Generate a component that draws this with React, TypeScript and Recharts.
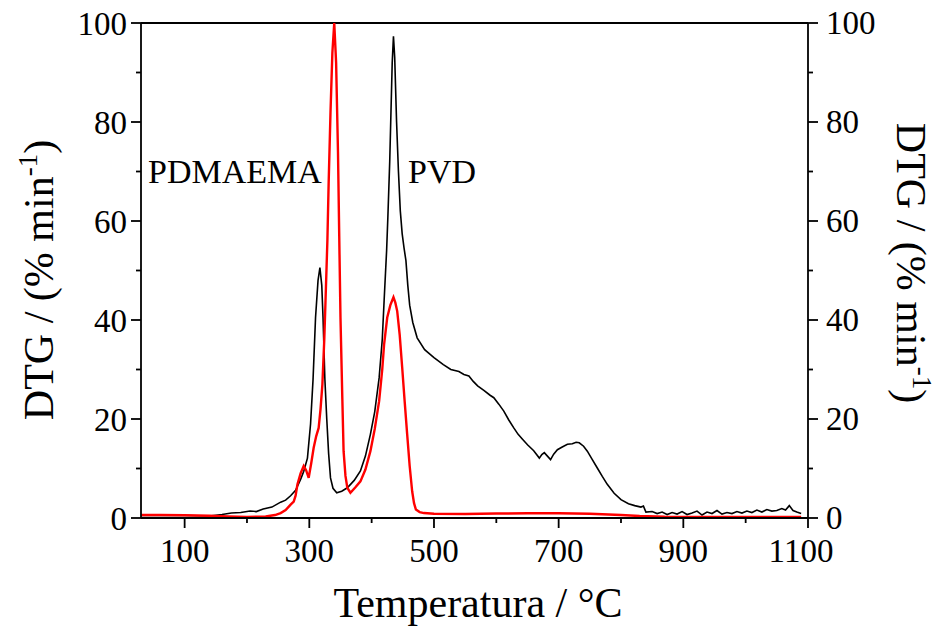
import React from 'react';
import { LineChart, Line, XAxis, YAxis, ReferenceLine } from 'recharts';

// black curve (PVD + small PDMAEMA-like shoulder)
const blackTemp = [
  30, 100, 140, 160, 175, 190, 205, 215, 226, 240, 254, 262, 270, 278, 286, 291, 297, 302, 306, 310,
  314, 317, 320, 322, 325, 328, 331, 334, 338, 344, 352, 361, 372, 382, 390, 398, 405, 412, 417, 420,
  424, 426, 429, 431, 433, 435, 437, 440, 443, 446, 449, 452, 455, 458, 461, 466, 473, 485, 500, 515,
  527, 540, 548, 556, 563, 570, 580, 590, 596, 604, 612, 620, 628, 635, 642, 650, 660, 669, 673, 677,
  682, 687, 692, 698, 705, 714, 722, 728, 733, 740, 746, 754, 762, 770, 778, 789, 800, 812, 822, 832,
  836, 840, 850, 858, 866, 874, 882, 890, 898, 906, 914, 922, 930, 938, 946, 954, 962, 970, 978, 986,
  994, 1002, 1010, 1018, 1026, 1034, 1042, 1050, 1058, 1064, 1070, 1076, 1082, 1089,
];
const blackDtg = [
  0.5, 0.5, 0.4, 0.7, 1.0, 1.1, 1.4, 1.3, 1.8, 2.2, 3.2, 3.6, 4.5, 5.6, 7.8, 9.4, 12.1, 19, 28, 40.5,
  48, 50.6, 47, 40.5, 28, 20, 13, 8.1, 6, 5.1, 5.4, 6.1, 7.6, 9.5, 12.5, 16.9, 21.5, 28.3, 36, 43.9,
  54, 60.7, 72, 82, 92, 97.3, 93, 80, 70, 62, 57.4, 54.5, 52, 47, 43, 39.5, 36.4, 34, 32.4, 31,
  30.0, 29.6, 29.0, 28.7, 27.6, 26.7, 25.8, 24.8, 24.3, 23, 21.6, 19.8, 18.2, 16.9, 15.9, 14.8, 13.6, 12.1, 12.8, 13.2,
  12.5, 11.8, 12.9, 13.8, 14.3, 14.9, 15.0, 15.3, 15.2, 14.5, 13.5, 11.8, 10.1, 8.4, 6.8, 5.0, 3.7, 2.9, 2.5, 2.2,
  2.4, 1.2, 1.3, 0.9, 1.2, 0.7, 1.1, 0.8, 1.3, 0.7, 1.0, 1.4, 0.6, 1.2, 0.9, 1.5, 0.8, 1.1, 0.9, 1.3,
  1.0, 1.4, 1.1, 1.6, 1.2, 1.7, 1.4, 1.5, 1.9, 1.6, 2.5, 1.5, 1.2, 0.9,
];

// red curve (PDMAEMA)
const redTemp = [
  30, 60, 100, 140, 170, 200, 230, 245, 254, 262, 270, 275, 278, 281, 286, 291, 295, 299, 303, 307,
  311, 315, 318, 321, 324, 326, 329, 331, 334, 337, 340, 343, 346, 348, 350, 353, 355, 358, 361, 366,
  374, 382, 390, 398, 405, 412, 417, 420, 425, 430, 435, 438, 441, 445, 449, 453, 457, 461, 465, 468,
  471, 477, 484, 500, 550, 600, 650, 700, 750, 800, 830, 870, 950, 1050, 1089,
];
const redDtg = [
  0.6, 0.6, 0.55, 0.45, 0.3, 0.2, 0.3, 0.6, 1.0, 1.6, 2.7, 3.3, 4.5, 6.8, 9.0, 10.5, 9.6, 8.1, 11, 14.2,
  16.5, 18.2, 22, 27, 36, 43.9, 56, 67.5, 82, 94, 100, 92, 74, 57, 40.5, 24, 13.5, 8.5, 6.1, 5.1,
  6.2, 7.4, 9.8, 13.5, 18, 23.6, 30, 35.1, 40.5, 43, 44.6, 43.5, 41.8, 37, 30.4, 23.5, 16.9, 10.5, 5.4, 3.0,
  1.7, 1.2, 1.0, 0.85, 0.8, 0.9, 0.95, 0.95, 0.85, 0.6, 0.4, 0.25, 0.2, 0.2, 0.2,
];

const xTicks = [100, 200, 300, 400, 500, 600, 700, 800, 900, 1000, 1100];
const yTicks = [0, 10, 20, 30, 40, 50, 60, 70, 80, 90, 100];

const blackData = blackTemp.map((t, i) => ({ t, v: blackDtg[i] }));
const redData = redTemp.map((t, i) => ({ t, v: redDtg[i] }));

const FONT = '"Liberation Serif", "Times New Roman", serif';

const XTick = (props: any) => {
  const { x, y, payload } = props;
  const major = payload.value % 200 === 100;
  // the last label sits a little left of its tick in the original
  const shift = payload.value === 1100 ? -7 : 0;
  return (
    <g>
      <line x1={x} y1={y} x2={x} y2={y + (major ? 10 : 5)} stroke="#000" strokeWidth={1.8} />
      {major && (
        <text x={x + shift} y={y + 44} textAnchor="middle" fontSize={33} fontFamily={FONT} fill="#000">
          {payload.value}
        </text>
      )}
    </g>
  );
};

const LeftTick = (props: any) => {
  const { x, y, payload } = props;
  const major = payload.value % 20 === 0;
  return (
    <g>
      <line x1={x} y1={y} x2={x - (major ? 10 : 5)} y2={y} stroke="#000" strokeWidth={1.8} />
      {major && (
        <text x={x - 14} y={y + 11.5} textAnchor="end" fontSize={33} fontFamily={FONT} fill="#000">
          {payload.value}
        </text>
      )}
    </g>
  );
};

const RightTick = (props: any) => {
  const { x, y, payload } = props;
  const major = payload.value % 20 === 0;
  return (
    <g>
      <line x1={x} y1={y} x2={x + (major ? 10 : 5)} y2={y} stroke="#000" strokeWidth={1.8} />
      {major && (
        <text x={x + 18} y={y + 11} textAnchor="start" fontSize={33} fontFamily={FONT} fill="#000">
          {payload.value}
        </text>
      )}
    </g>
  );
};

const dtgTitle = (
  <>
    DTG / (% min
    <tspan dy={-16} fontSize={27}>-1</tspan>
    <tspan dy={16}>)</tspan>
  </>
);

export default function App() {
  return (
    <div style={{ position: 'absolute', left: 0, top: 0, width: 939, height: 627, background: '#fff' }}>
      <LineChart width={939} height={627} margin={{ top: 23, right: 0, bottom: 0, left: 0 }}>
        <XAxis
          dataKey="t"
          type="number"
          domain={[30, 1100]}
          ticks={xTicks}
          allowDataOverflow
          height={109}
          tickSize={0}
          tickMargin={0}
          tick={<XTick />}
          axisLine={{ stroke: '#000', strokeWidth: 1.8 }}
          label={{
            content: () => (
              <g fontFamily={FONT} fill="#000">
                <text x={478} y={617} textAnchor="middle" fontSize={42}>Temperatura / °C</text>
                <text x={148} y={183} fontSize={34}>PDMAEMA</text>
                <text x={408} y={183} fontSize={34}>PVD</text>
              </g>
            ),
          }}
        />
        <YAxis
          yAxisId="left"
          type="number"
          domain={[0, 100]}
          ticks={yTicks}
          width={141}
          tickSize={0}
          tickMargin={0}
          tick={<LeftTick />}
          axisLine={{ stroke: '#000', strokeWidth: 1.8 }}
          label={{
            content: () => (
              <text transform="translate(53,280) rotate(-90)" textAnchor="middle" fontSize={42} fontFamily={FONT} fill="#000">
                {dtgTitle}
              </text>
            ),
          }}
        />
        <YAxis
          yAxisId="right"
          orientation="right"
          type="number"
          domain={[0, 100]}
          ticks={yTicks}
          width={131}
          tickSize={0}
          tickMargin={0}
          tick={<RightTick />}
          axisLine={{ stroke: '#000', strokeWidth: 1.8 }}
          label={{
            content: () => (
              <text transform="translate(897,263) rotate(90)" textAnchor="middle" fontSize={42} fontFamily={FONT} fill="#000">
                {dtgTitle}
              </text>
            ),
          }}
        />
        <ReferenceLine yAxisId="left" y={100} stroke="#000" strokeWidth={1.8} />
        <Line
          yAxisId="left"
          data={blackData}
          dataKey="v"
          type="linear"
          stroke="#000"
          strokeWidth={1.6}
          dot={false}
          isAnimationActive={false}
        />
        <Line
          yAxisId="right"
          data={redData}
          dataKey="v"
          type="linear"
          stroke="#ff0000"
          strokeWidth={2.4}
          dot={false}
          isAnimationActive={false}
        />
      </LineChart>
    </div>
  );
}
